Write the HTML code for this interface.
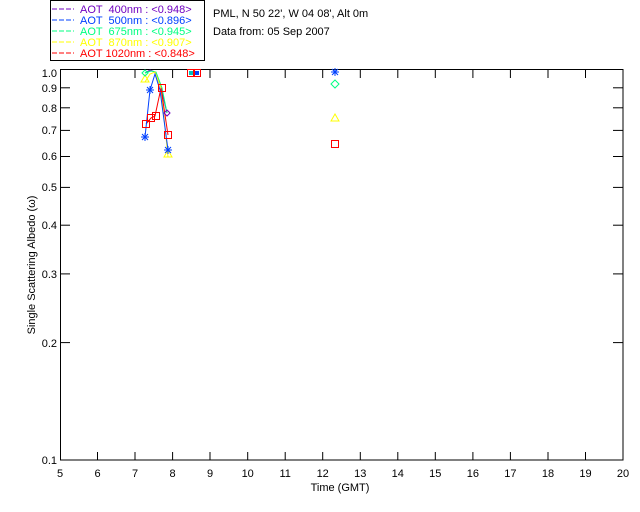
<!DOCTYPE html>
<html><head><meta charset="utf-8"><style>
body{margin:0;background:#fff;}
svg{display:block;}
text{font-family:"Liberation Sans",sans-serif;font-size:11px;white-space:pre;}
</style></head><body>
<svg width="640" height="512" viewBox="0 0 640 512" xmlns="http://www.w3.org/2000/svg">
<rect width="640" height="512" fill="#fff"/>
<rect x="50.5" y="0.5" width="154" height="60" fill="#fff" stroke="#000"/>
<g font-size="10.5">
<line x1="52" y1="9" x2="74" y2="9" stroke="#7000c0" stroke-dasharray="5,2"/>
<text x="80" y="13" fill="#7000c0">AOT  400nm : &lt;0.948&gt;</text>
<line x1="52" y1="20" x2="74" y2="20" stroke="#0040ff" stroke-dasharray="5,2"/>
<text x="80" y="24" fill="#0040ff">AOT  500nm : &lt;0.896&gt;</text>
<line x1="52" y1="31" x2="74" y2="31" stroke="#00ff80" stroke-dasharray="5,2"/>
<text x="80" y="35" fill="#00ff80">AOT  675nm : &lt;0.945&gt;</text>
<line x1="52" y1="42" x2="74" y2="42" stroke="#ffff00" stroke-dasharray="5,2"/>
<text x="80" y="46" fill="#ffff00">AOT  870nm : &lt;0.907&gt;</text>
<line x1="52" y1="53" x2="74" y2="53" stroke="#ff0000" stroke-dasharray="5,2"/>
<text x="80" y="57" fill="#ff0000">AOT 1020nm : &lt;0.848&gt;</text>
</g>
<text x="213" y="17">PML, N 50 22', W 04 08', Alt 0m</text>
<text x="213" y="35">Data from: 05 Sep 2007</text>
<rect x="60.5" y="69.5" width="562.5" height="390.5" fill="none" stroke="#000"/>
<g stroke="#000">
<line x1="97.5" y1="460" x2="97.5" y2="452"/><line x1="135" y1="460" x2="135" y2="452"/><line x1="172.6" y1="460" x2="172.6" y2="452"/><line x1="210" y1="460" x2="210" y2="452"/><line x1="247.7" y1="460" x2="247.7" y2="452"/><line x1="285.2" y1="460" x2="285.2" y2="452"/><line x1="322.7" y1="460" x2="322.7" y2="452"/><line x1="360.3" y1="460" x2="360.3" y2="452"/><line x1="397.8" y1="460" x2="397.8" y2="452"/><line x1="435.3" y1="460" x2="435.3" y2="452"/><line x1="472.9" y1="460" x2="472.9" y2="452"/><line x1="510.4" y1="460" x2="510.4" y2="452"/><line x1="548" y1="460" x2="548" y2="452"/><line x1="585.5" y1="460" x2="585.5" y2="452"/>
<line x1="97.5" y1="70" x2="97.5" y2="78"/><line x1="135" y1="70" x2="135" y2="78"/><line x1="172.6" y1="70" x2="172.6" y2="78"/><line x1="210" y1="70" x2="210" y2="78"/><line x1="247.7" y1="70" x2="247.7" y2="78"/><line x1="285.2" y1="70" x2="285.2" y2="78"/><line x1="322.7" y1="70" x2="322.7" y2="78"/><line x1="360.3" y1="70" x2="360.3" y2="78"/><line x1="397.8" y1="70" x2="397.8" y2="78"/><line x1="435.3" y1="70" x2="435.3" y2="78"/><line x1="472.9" y1="70" x2="472.9" y2="78"/><line x1="510.4" y1="70" x2="510.4" y2="78"/><line x1="548" y1="70" x2="548" y2="78"/><line x1="585.5" y1="70" x2="585.5" y2="78"/>
<line x1="60" y1="87.8" x2="70" y2="87.8"/><line x1="60" y1="107.8" x2="70" y2="107.8"/><line x1="60" y1="130.4" x2="70" y2="130.4"/><line x1="60" y1="156.5" x2="70" y2="156.5"/><line x1="60" y1="187.4" x2="70" y2="187.4"/><line x1="60" y1="225.2" x2="70" y2="225.2"/><line x1="60" y1="273.9" x2="70" y2="273.9"/><line x1="60" y1="342.6" x2="70" y2="342.6"/>
<line x1="623" y1="87.8" x2="613" y2="87.8"/><line x1="623" y1="107.8" x2="613" y2="107.8"/><line x1="623" y1="130.4" x2="613" y2="130.4"/><line x1="623" y1="156.5" x2="613" y2="156.5"/><line x1="623" y1="187.4" x2="613" y2="187.4"/><line x1="623" y1="225.2" x2="613" y2="225.2"/><line x1="623" y1="273.9" x2="613" y2="273.9"/><line x1="623" y1="342.6" x2="613" y2="342.6"/>
</g>
<g font-size="10.5" text-anchor="end">
<text x="57" y="77">1.0</text><text x="57" y="92">0.9</text><text x="57" y="112">0.8</text><text x="57" y="134">0.7</text><text x="57" y="160">0.6</text><text x="57" y="191">0.5</text><text x="57" y="229">0.4</text><text x="57" y="278">0.3</text><text x="57" y="347">0.2</text><text x="57" y="464">0.1</text>
</g>
<g font-size="10.5" text-anchor="middle">
<text x="60" y="477">5</text><text x="97.5" y="477">6</text><text x="135" y="477">7</text><text x="172.6" y="477">8</text><text x="210" y="477">9</text><text x="247.7" y="477">10</text><text x="285.2" y="477">11</text><text x="322.7" y="477">12</text><text x="360.3" y="477">13</text><text x="397.8" y="477">14</text><text x="435.3" y="477">15</text><text x="472.9" y="477">16</text><text x="510.4" y="477">17</text><text x="548" y="477">18</text><text x="585.5" y="477">19</text><text x="623" y="477">20</text>
<text x="340" y="491">Time (GMT)</text>
</g>
<text x="0" y="0" font-size="10.5" text-anchor="middle" transform="translate(35,265) rotate(-90)">Single Scattering Albedo (ω)</text>
<g fill="none" stroke-width="1">
<polyline points="145,73 150,70 155,72 161,88 167,113" stroke="#7000c0"/>
<polyline points="145,73 151,71 156,72 162,88 167,113" stroke="#00ff80"/>
<polyline points="145,82 150,74 155,72 161,88 168,157" stroke="#ffff00"/>
<polyline points="146,124 151,118 155,116 161,88 168,135" stroke="#ff0000"/>
<polyline points="145,137 150,90 155,74 160,90 168,150" stroke="#0040ff"/>
</g>
<g fill="none" stroke-width="1">
<path d="M141,82 l4,-7 l4,7z" stroke="#ffff00"/>
<path d="M145,70 l3,3 l-3,3 l-3,-3z" stroke="#00ff80"/>
<path d="M164,113 l3,-3 l3,3 l-3,3z" stroke="#7000c0"/>
<path d="M164,157 l4,-7 l4,7z" stroke="#ffff00"/>
<rect x="142.5" y="120.5" width="7" height="7" stroke="#ff0000"/>
<rect x="147.5" y="114.5" width="7" height="7" stroke="#ff0000"/>
<rect x="152.5" y="112.5" width="7" height="7" stroke="#ff0000"/>
<rect x="158.5" y="84.5" width="7" height="7" stroke="#ff0000"/>
<rect x="164.5" y="131.5" width="7" height="7" stroke="#ff0000"/>
<rect x="187.5" y="69.5" width="7" height="7" stroke="#ff0000"/>
<rect x="193.5" y="69.5" width="7" height="7" stroke="#ff0000"/>
<rect x="189" y="71" width="4" height="4" fill="#00c0c0" stroke="none"/>
<rect x="195" y="71" width="4" height="4" fill="#0040ff" stroke="none"/>
<g stroke="#0040ff"><path d="M145,133v8M141,137h8M142,134l6,6M148,134l-6,6"/><path d="M150,86v8M146,90h8M147,87l6,6M153,87l-6,6"/><path d="M168,146v8M164,150h8M165,147l6,6M171,147l-6,6"/><path d="M335,68v8M331,72h8M332,69l6,6M338,69l-6,6"/></g>
<path d="M335,80 l4,4 l-4,4 l-4,-4z" stroke="#00ff80"/>
<path d="M331,121 l4,-7 l4,7z" stroke="#ffff00"/>
<rect x="331.5" y="140.5" width="7" height="7" stroke="#ff0000"/>
</g>
</svg>
</body></html>
